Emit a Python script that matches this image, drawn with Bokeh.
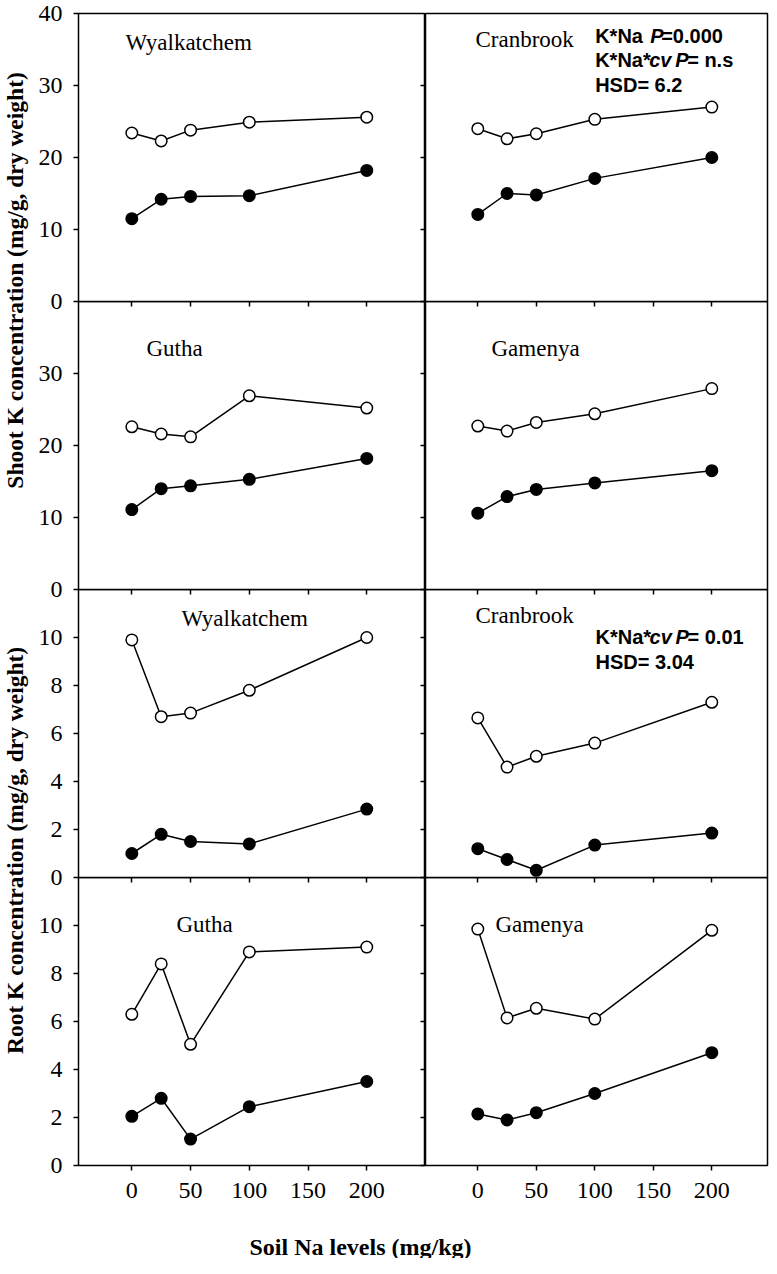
import math
from bokeh.plotting import figure
from bokeh.layouts import row, column
from bokeh.models import Range1d, LinearAxis, FixedTicker
from bokeh.core.properties import value
from bokeh.embed import file_html
from bokeh.resources import INLINE

# ---------------- data ----------------
soil_na = [0, 25, 50, 100, 200]
x_tick_values = [0, 50, 100, 150, 200]
x_tick_labels = ["0", "50", "100", "150", "200"]
shoot_ticks_top = [0, 10, 20, 30, 40]
shoot_ticks = [0, 10, 20, 30]
root_ticks = [0, 2, 4, 6, 8, 10]

cultivar_names = ["Wyalkatchem", "Cranbrook", "Gutha", "Gamenya"]

shoot_wyalkatchem_open = [23.4, 22.3, 23.8, 24.9, 25.6]
shoot_wyalkatchem_filled = [11.5, 14.2, 14.6, 14.7, 18.2]
shoot_cranbrook_open = [24.0, 22.6, 23.3, 25.3, 27.0]
shoot_cranbrook_filled = [12.1, 15.0, 14.8, 17.1, 20.0]
shoot_gutha_open = [22.6, 21.6, 21.2, 26.9, 25.2]
shoot_gutha_filled = [11.1, 14.0, 14.4, 15.3, 18.2]
shoot_gamenya_open = [22.7, 22.0, 23.2, 24.4, 27.9]
shoot_gamenya_filled = [10.6, 12.9, 13.9, 14.8, 16.5]

root_wyalkatchem_open = [9.9, 6.7, 6.85, 7.8, 10.0]
root_wyalkatchem_filled = [1.0, 1.8, 1.5, 1.4, 2.85]
root_cranbrook_open = [6.65, 4.6, 5.05, 5.6, 7.3]
root_cranbrook_filled = [1.2, 0.75, 0.3, 1.35, 1.85]
root_gutha_open = [6.3, 8.4, 5.05, 8.9, 9.1]
root_gutha_filled = [2.05, 2.8, 1.1, 2.45, 3.5]
root_gamenya_open = [9.85, 6.15, 6.55, 6.1, 9.8]
root_gamenya_filled = [2.15, 1.9, 2.2, 3.0, 4.7]

shoot_stats_lines = [
    [("K*Na ", "bold", 0), ("P", "bold italic", 55), ("=0.000", "bold", 66)],
    [("K*Na*", "bold", 0), ("cv", "bold italic", 54), ("P", "bold italic", 80), ("= n.s", "bold", 92)],
    [("HSD= 6.2", "bold", 0)],
]
root_stats_lines = [
    [("K*Na*", "bold", 0), ("cv", "bold italic", 54), ("P", "bold italic", 80), ("= 0.01", "bold", 92)],
    [("HSD= 3.04", "bold", 0)],
]

shoot_title = "Shoot K concentration  (mg/g, dry weight)"
root_title = "Root K concentration  (mg/g, dry weight)"
x_title = "Soil Na levels (mg/kg)"

# ---------------- styling / geometry ----------------
SERIF = "Liberation Serif"
SANS = "Liberation Sans"
FRAME_H = 288
LEFT_W, RIGHT_W = 347, 342
STRIP_W = 33
LEFT_BORDER = 45
TOP_BORDER = 13
GAP_BORDER = 15          # space under an inner panel (overlapped by the next row)
BOTTOM_BORDER = 46
RIGHT_COL_LEFT = 6       # space for the right panels' outward y ticks
RIGHT_BORDER = 2
X_RANGE_LEFT = (-45.4, 250.0)
X_RANGE_RIGHT = (-44.7, 247.6)


def style_axis(ax, tick_out, show_labels, size="24px", standoff=12):
    ax.axis_line_color = None
    ax.major_tick_in = 0
    ax.major_tick_out = tick_out
    ax.major_tick_line_width = 1.5
    ax.major_tick_line_color = "black"
    ax.minor_tick_line_color = None
    if show_labels:
        ax.major_label_text_font = SERIF
        ax.major_label_text_font_size = size
        ax.major_label_text_color = "black"
        ax.major_label_standoff = standoff
    else:
        ax.major_label_text_font_size = "0px"
        ax.major_label_text_color = None
        ax.major_label_standoff = 0


def make_panel(col, row_i, y_max, y_ticks, open_vals, filled_vals,
               name, name_x, name_y, stats=None, stats_x=None, stats_y=None):
    is_left = col == 0
    is_bottom = row_i == 3
    xr = X_RANGE_LEFT if is_left else X_RANGE_RIGHT
    p = figure(frame_width=LEFT_W if is_left else RIGHT_W, frame_height=FRAME_H,
               x_range=Range1d(*xr), y_range=Range1d(0, y_max),
               x_axis_location=None, y_axis_location=None,
               output_backend="svg", toolbar_location=None,
               min_border_left=LEFT_BORDER if is_left else RIGHT_COL_LEFT,
               min_border_right=0 if is_left else RIGHT_BORDER,
               min_border_top=TOP_BORDER if row_i == 0 else 0,
               min_border_bottom=BOTTOM_BORDER if is_bottom else GAP_BORDER,
               outline_line_color="black", outline_line_width=1.5,
               background_fill_alpha=0, border_fill_alpha=0,
               margin=(0, 0, 0, 0) if row_i == 0 else (-GAP_BORDER, 0, 0, 0))
    p.xgrid.visible = False
    p.ygrid.visible = False

    ax = LinearAxis(ticker=FixedTicker(ticks=y_ticks if is_left else [t for t in y_ticks if t != 40]))
    style_axis(ax, 5, is_left, size="24px", standoff=11)
    p.add_layout(ax, "left")

    axb = LinearAxis(ticker=FixedTicker(ticks=x_tick_values))
    style_axis(axb, 5, is_bottom, size="24px", standoff=12)
    if is_bottom:
        axb.major_label_overrides = {v: s for v, s in zip(x_tick_values, x_tick_labels)}
    p.add_layout(axb, "below")

    p.line(soil_na, filled_vals, line_color="black", line_width=1.5)
    p.line(soil_na, open_vals, line_color="black", line_width=1.5)
    p.scatter(soil_na, filled_vals, marker="circle", size=11.5,
              fill_color="black", line_color="black", line_width=1.5)
    p.scatter(soil_na, open_vals, marker="circle", size=11.5,
              fill_color="white", line_color="black", line_width=1.5)

    p.text(x=[name_x], y=[name_y], text=[name], text_font=value(SERIF),
           text_font_size="23px", text_align="left", text_baseline="middle",
           text_color="black")

    if stats:
        for line, ly in zip(stats, stats_y):
            for s, style, off in line:
                p.text(x=[stats_x], y=[ly], text=[s], x_offset=off,
                       text_font=value(SANS), text_font_style=style,
                       text_font_size="20px", text_align="left",
                       text_baseline="middle", text_color="black")
    return p


L0 = make_panel(0, 0, 40, shoot_ticks_top, shoot_wyalkatchem_open, shoot_wyalkatchem_filled,
                cultivar_names[0], -5.4, 36.0)
R0 = make_panel(1, 0, 40, shoot_ticks_top, shoot_cranbrook_open, shoot_cranbrook_filled,
                cultivar_names[1], -2.0, 36.4, shoot_stats_lines, 100.3, [36.9, 33.5, 30.1])
L1 = make_panel(0, 1, 40, shoot_ticks, shoot_gutha_open, shoot_gutha_filled,
                cultivar_names[2], 12.5, 33.5)
R1 = make_panel(1, 1, 40, shoot_ticks, shoot_gamenya_open, shoot_gamenya_filled,
                cultivar_names[3], 11.7, 33.5)
L2 = make_panel(0, 2, 12, root_ticks, root_wyalkatchem_open, root_wyalkatchem_filled,
                cultivar_names[0], 42.3, 10.79)
R2 = make_panel(1, 2, 12, root_ticks, root_cranbrook_open, root_cranbrook_filled,
                cultivar_names[1], -2.0, 10.9, root_stats_lines, 100.6, [10.04, 9.0])
L3 = make_panel(0, 3, 12, root_ticks, root_gutha_open, root_gutha_filled,
                cultivar_names[2], 38.0, 10.04)
R3 = make_panel(1, 3, 12, root_ticks, root_gamenya_open, root_gamenya_filled,
                cultivar_names[3], 15.1, 10.04)

# left strip with the rotated y-axis titles
STRIP_H = TOP_BORDER + 4 * FRAME_H + BOTTOM_BORDER
ys = figure(width=STRIP_W, height=STRIP_H, x_range=Range1d(0, STRIP_W),
            y_range=Range1d(0, STRIP_H), x_axis_location=None, y_axis_location=None,
            output_backend="svg", toolbar_location=None, min_border=0,
            outline_line_color=None, border_fill_alpha=0, background_fill_alpha=0)
ys.xgrid.visible = False
ys.ygrid.visible = False
ys.text(x=[14, 14], y=[STRIP_H - 277, STRIP_H - 847], text=[shoot_title, root_title],
        angle=math.pi / 2, text_font=value(SERIF), text_font_style="bold",
        text_font_size="23.5px", text_align="center", text_baseline="middle",
        text_color="black")

TOTAL_W = STRIP_W + LEFT_BORDER + LEFT_W + RIGHT_W + RIGHT_BORDER
XS_H = 1258 - STRIP_H
xs = figure(width=TOTAL_W, height=XS_H, x_range=Range1d(0, TOTAL_W),
            y_range=Range1d(0, XS_H), x_axis_location=None, y_axis_location=None,
            output_backend="svg", toolbar_location=None, min_border=0,
            outline_line_color=None, border_fill_alpha=0, background_fill_alpha=0)
xs.xgrid.visible = False
xs.ygrid.visible = False
xs.text(x=[360], y=[12], text=[x_title], text_font=value(SERIF),
        text_font_style="bold", text_font_size="24px", text_align="center",
        text_baseline="middle", text_color="black")

left_col = column(L0, L1, L2, L3)
right_col = column(R0, R1, R2, R3, margin=(0, 0, 0, -RIGHT_COL_LEFT))
layout = column(row(ys, left_col, right_col), xs)

with open("out.html", "w") as f:
    f.write(file_html(layout, INLINE))
